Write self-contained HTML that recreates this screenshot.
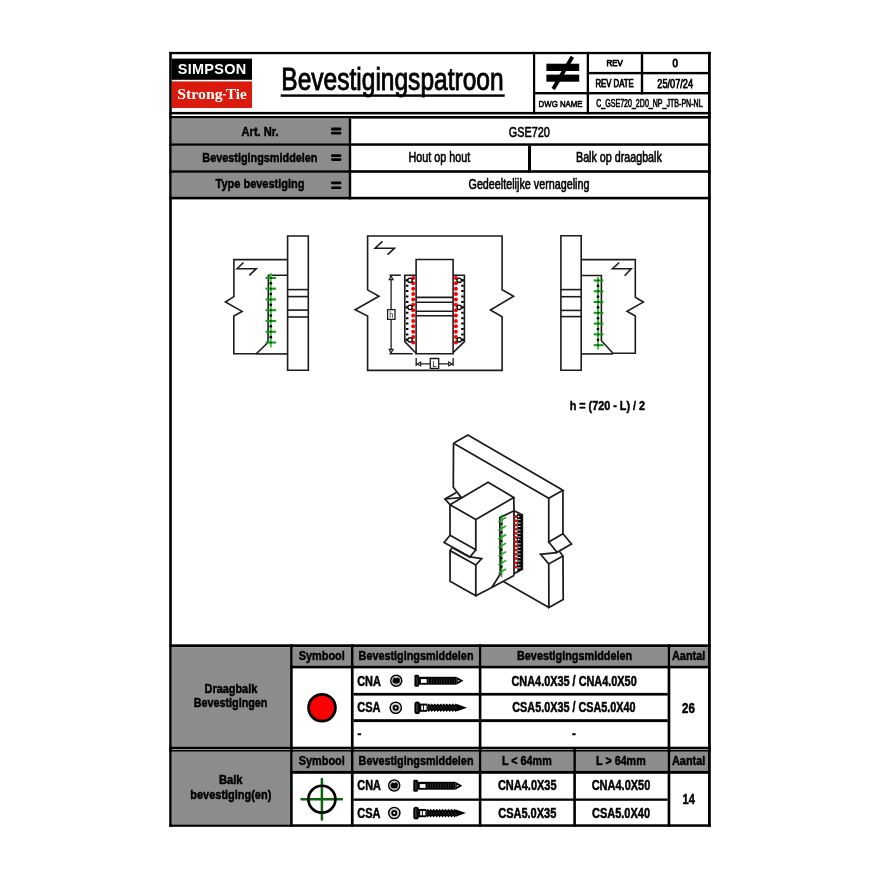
<!DOCTYPE html>
<html><head><meta charset="utf-8"><style>
html,body{margin:0;padding:0;background:#fff;width:880px;height:880px;overflow:hidden}
svg{display:block;will-change:transform}
</style></head><body>
<svg width="880" height="880" viewBox="0 0 880 880">
<defs>
<g id="nail">
  <rect x="0" y="-6" width="4.6" height="12" rx="1.3" fill="#000"/>
  <rect x="2.2" y="-4.2" width="0.9" height="8.4" fill="#555"/>
  <rect x="4.4" y="-4" width="8.4" height="7.9" fill="#000"/>
  <rect x="6.5" y="-1.7" width="5.8" height="3.8" fill="#fff"/>
  <rect x="12.6" y="-4" width="29.4" height="7.9" fill="#000"/>
  <path d="M42,-4 L49.1,0 L42,3.9 Z" fill="#000"/>
  <path d="M43.4,-0.8 L45.6,0 L43.4,0.9 Z" fill="#fff"/>
  <rect x="14.00" y="-2.6" width="0.6" height="5.2" fill="#444"/><rect x="16.60" y="-2.6" width="0.6" height="5.2" fill="#444"/><rect x="19.20" y="-2.6" width="0.6" height="5.2" fill="#444"/><rect x="21.80" y="-2.6" width="0.6" height="5.2" fill="#444"/><rect x="24.40" y="-2.6" width="0.6" height="5.2" fill="#444"/><rect x="27.00" y="-2.6" width="0.6" height="5.2" fill="#444"/><rect x="29.60" y="-2.6" width="0.6" height="5.2" fill="#444"/><rect x="32.20" y="-2.6" width="0.6" height="5.2" fill="#444"/><rect x="34.80" y="-2.6" width="0.6" height="5.2" fill="#444"/><rect x="37.40" y="-2.6" width="0.6" height="5.2" fill="#444"/><rect x="40.00" y="-2.6" width="0.6" height="5.2" fill="#444"/>
</g>
<g id="screw">
  <rect x="0" y="-6.3" width="5.6" height="12.6" rx="2.6" fill="#000"/>
  <rect x="2.1" y="-4.3" width="1.0" height="8.6" fill="#666"/>
  <rect x="5.4" y="-4.1" width="7.4" height="8.2" fill="#000"/>
  <rect x="6.9" y="-2.2" width="1.7" height="4.4" fill="#fff"/>
  <rect x="9.5" y="-2.2" width="2.6" height="4.4" fill="#fff"/>
  <polygon points="12.80,-2.60 14.30,-4.30 15.80,-2.60 17.30,-4.30 18.80,-2.60 20.30,-4.30 21.80,-2.60 23.30,-4.30 24.80,-2.60 26.30,-4.30 27.80,-2.60 29.30,-4.30 30.80,-2.60 32.30,-4.30 33.80,-2.60 35.30,-4.30 36.80,-2.60 38.30,-4.30 39.80,-2.60 41.30,-4.30 42.80,-2.60 42.80,2.60 41.30,4.30 39.80,2.60 38.30,4.30 36.80,2.60 35.30,4.30 33.80,2.60 32.30,4.30 30.80,2.60 29.30,4.30 27.80,2.60 26.30,4.30 24.80,2.60 23.30,4.30 21.80,2.60 20.30,4.30 18.80,2.60 17.30,4.30 15.80,2.60 14.30,4.30 12.80,2.60" fill="#000"/><path d="M13.60,-1.6 L15.20,1.6" stroke="#555" stroke-width="0.5"/><path d="M16.60,-1.6 L18.20,1.6" stroke="#555" stroke-width="0.5"/><path d="M19.60,-1.6 L21.20,1.6" stroke="#555" stroke-width="0.5"/><path d="M22.60,-1.6 L24.20,1.6" stroke="#555" stroke-width="0.5"/><path d="M25.60,-1.6 L27.20,1.6" stroke="#555" stroke-width="0.5"/><path d="M28.60,-1.6 L30.20,1.6" stroke="#555" stroke-width="0.5"/><path d="M31.60,-1.6 L33.20,1.6" stroke="#555" stroke-width="0.5"/><path d="M34.60,-1.6 L36.20,1.6" stroke="#555" stroke-width="0.5"/><path d="M37.60,-1.6 L39.20,1.6" stroke="#555" stroke-width="0.5"/><path d="M40.60,-1.6 L42.20,1.6" stroke="#555" stroke-width="0.5"/>
  <path d="M42.5,-3.6 L52.6,0 L42.5,3.6 Z" fill="#000"/>
</g>
<g id="cna">
  <circle r="5.5" fill="#fff" stroke="#000" stroke-width="1.5"/>
  <circle r="3.9" fill="none" stroke="#888" stroke-width="0.6"/>
  <circle r="4.1" fill="none" stroke="#aaa" stroke-width="0.5"/><path d="M-3.6,-0.8 L-2.2,-3.0 L0.6,-2.6 L1.6,-3.5 L3.7,-1.4 L3.3,1.9 L1.0,3.1 L-1.9,2.7 L-3.5,1.6 Z" fill="#000"/>
</g>
<g id="csa">
  <circle r="5.6" fill="#fff" stroke="#000" stroke-width="1.5"/>
  <circle r="4.0" fill="none" stroke="#999" stroke-width="0.6"/>
  <circle r="2.1" fill="none" stroke="#000" stroke-width="2.0"/>
</g>
</defs>
<rect x="169.20" y="51.90" width="541.60" height="2.30" fill="#000"/>
<rect x="169.20" y="51.90" width="2.60" height="774.90" fill="#000"/>
<rect x="708.00" y="51.90" width="2.80" height="774.90" fill="#000"/>
<rect x="169.20" y="824.30" width="541.60" height="2.50" fill="#000"/>
<rect x="171.90" y="58.60" width="80.10" height="21.20" fill="#000"/>
<rect x="171.90" y="81.40" width="80.10" height="26.60" fill="#da1a0c"/>
<text x="177.70" y="74.40" font-family="Liberation Sans" font-size="14.2" font-weight="700" fill="#fff"  textLength="68.80" lengthAdjust="spacingAndGlyphs" style="letter-spacing:0.3px">SIMPSON</text>
<text x="177.20" y="98.90" font-family="Liberation Serif" font-size="15.6" font-weight="700" fill="#fff"  textLength="45.50" lengthAdjust="spacingAndGlyphs" >Strong</text>
<rect x="222.90" y="94.00" width="3.00" height="1.40" fill="#fff"/>
<text x="225.90" y="98.90" font-family="Liberation Serif" font-size="15.6" font-weight="700" fill="#fff"  textLength="20.70" lengthAdjust="spacingAndGlyphs" >Tie</text>
<text x="281.30" y="90.30" font-family="Liberation Sans" font-size="30.8" font-weight="400" fill="#000" stroke="#000" stroke-width="0.9" textLength="222.30" lengthAdjust="spacingAndGlyphs" >Bevestigingspatroon</text>
<rect x="280.70" y="94.40" width="224.00" height="2.40" fill="#000"/>
<rect x="533.00" y="51.90" width="2.20" height="62.40" fill="#000"/>
<rect x="586.70" y="51.90" width="2.30" height="62.40" fill="#000"/>
<rect x="589.00" y="71.90" width="119.00" height="2.40" fill="#000"/>
<rect x="533.00" y="92.00" width="175.00" height="2.40" fill="#000"/>
<rect x="640.80" y="51.90" width="2.40" height="42.50" fill="#000"/>
<rect x="546.40" y="63.70" width="32.80" height="7.30" fill="#000"/>
<rect x="546.40" y="74.60" width="32.80" height="7.10" fill="#000"/>
<path d="M553.2,88.9 L572.4,56.8" stroke="#000" stroke-width="3.9" fill="none" stroke-linejoin="miter" stroke-linecap="butt" />
<text x="606.40" y="66.30" font-family="Liberation Sans" font-size="8.7" font-weight="400" fill="#000" stroke="#000" stroke-width="0.75" textLength="16.40" lengthAdjust="spacingAndGlyphs" >REV</text>
<text x="672.60" y="67.30" font-family="Liberation Sans" font-size="11.1" font-weight="400" fill="#000" stroke="#000" stroke-width="0.9" textLength="5.40" lengthAdjust="spacingAndGlyphs" >0</text>
<text x="595.50" y="87.20" font-family="Liberation Sans" font-size="10.2" font-weight="400" fill="#000" stroke="#000" stroke-width="0.75" textLength="38.20" lengthAdjust="spacingAndGlyphs" >REV DATE</text>
<text x="657.30" y="87.50" font-family="Liberation Sans" font-size="11.9" font-weight="400" fill="#000" stroke="#000" stroke-width="0.75" textLength="35.70" lengthAdjust="spacingAndGlyphs" >25/07/24</text>
<text x="538.60" y="107.00" font-family="Liberation Sans" font-size="9.7" font-weight="400" fill="#000" stroke="#000" stroke-width="0.6" textLength="44.00" lengthAdjust="spacingAndGlyphs" >DWG NAME</text>
<text x="596.20" y="107.20" font-family="Liberation Sans" font-size="10.5" font-weight="400" fill="#000" stroke="#000" stroke-width="0.6" textLength="106.40" lengthAdjust="spacingAndGlyphs" >C_GSE720_2D0_NP_JTB-PN-NL</text>
<rect x="169.20" y="111.90" width="541.60" height="2.50" fill="#000"/>
<rect x="169.20" y="116.00" width="541.60" height="2.60" fill="#000"/>
<rect x="171.80" y="118.50" width="176.80" height="24.80" fill="#8c8c8c"/>
<rect x="171.80" y="145.80" width="176.80" height="24.20" fill="#8c8c8c"/>
<rect x="171.80" y="172.80" width="176.80" height="24.20" fill="#8c8c8c"/>
<rect x="169.20" y="143.30" width="541.60" height="2.50" fill="#000"/>
<rect x="169.20" y="170.20" width="541.60" height="2.60" fill="#000"/>
<rect x="169.20" y="196.80" width="541.60" height="2.60" fill="#000"/>
<rect x="348.60" y="118.50" width="2.60" height="80.90" fill="#000"/>
<rect x="528.00" y="145.80" width="3.00" height="26.90" fill="#000"/>
<text x="241.60" y="136.00" font-family="Liberation Sans" font-size="13.7" font-weight="700" fill="#000" stroke="#000" stroke-width="0.5" textLength="37.00" lengthAdjust="spacingAndGlyphs" >Art. Nr.</text>
<text x="202.30" y="161.50" font-family="Liberation Sans" font-size="13.7" font-weight="700" fill="#000" stroke="#000" stroke-width="0.5" textLength="115.20" lengthAdjust="spacingAndGlyphs" >Bevestigingsmiddelen</text>
<text x="215.60" y="188.00" font-family="Liberation Sans" font-size="13.7" font-weight="700" fill="#000" stroke="#000" stroke-width="0.5" textLength="88.80" lengthAdjust="spacingAndGlyphs" >Type bevestiging</text>
<rect x="331.0" y="127.6" width="10.4" height="2.90" rx="1.3" fill="#000"/>
<rect x="331.0" y="131.8" width="10.4" height="2.70" rx="1.3" fill="#000"/>
<rect x="331.0" y="154.2" width="10.4" height="2.80" rx="1.3" fill="#000"/>
<rect x="331.0" y="158.2" width="10.4" height="2.70" rx="1.3" fill="#000"/>
<rect x="331.0" y="181.5" width="10.4" height="2.80" rx="1.3" fill="#000"/>
<rect x="331.0" y="186.4" width="10.4" height="2.70" rx="1.3" fill="#000"/>
<text x="508.70" y="136.60" font-family="Liberation Sans" font-size="14.2" font-weight="400" fill="#000" stroke="#000" stroke-width="0.6" textLength="41.20" lengthAdjust="spacingAndGlyphs" >GSE720</text>
<text x="408.50" y="161.50" font-family="Liberation Sans" font-size="14.2" font-weight="400" fill="#000" stroke="#000" stroke-width="0.6" textLength="61.80" lengthAdjust="spacingAndGlyphs" >Hout op hout</text>
<text x="576.00" y="161.50" font-family="Liberation Sans" font-size="14.2" font-weight="400" fill="#000" stroke="#000" stroke-width="0.6" textLength="85.80" lengthAdjust="spacingAndGlyphs" >Balk op draagbalk</text>
<text x="468.50" y="189.00" font-family="Liberation Sans" font-size="14.2" font-weight="400" fill="#000" stroke="#000" stroke-width="0.6" textLength="121.00" lengthAdjust="spacingAndGlyphs" >Gedeeltelijke vernageling</text>
<rect x="169.20" y="644.30" width="541.60" height="2.90" fill="#000"/>
<rect x="171.80" y="647.20" width="118.30" height="99.60" fill="#8c8c8c"/>
<rect x="293.00" y="647.20" width="57.90" height="18.40" fill="#8c8c8c"/>
<rect x="353.60" y="647.20" width="125.20" height="18.40" fill="#8c8c8c"/>
<rect x="481.40" y="647.20" width="186.20" height="18.40" fill="#8c8c8c"/>
<rect x="670.50" y="647.20" width="37.50" height="18.40" fill="#8c8c8c"/>
<rect x="290.10" y="665.60" width="417.90" height="2.80" fill="#000"/>
<rect x="353.60" y="692.90" width="314.20" height="2.70" fill="#000"/>
<rect x="353.60" y="719.20" width="314.20" height="2.90" fill="#000"/>
<rect x="169.20" y="746.70" width="541.60" height="2.30" fill="#000"/>
<rect x="169.20" y="749.60" width="541.60" height="2.40" fill="#000"/>
<rect x="171.80" y="751.50" width="118.30" height="72.80" fill="#8c8c8c"/>
<rect x="293.00" y="751.50" width="57.90" height="19.30" fill="#8c8c8c"/>
<rect x="353.60" y="751.50" width="125.20" height="19.30" fill="#8c8c8c"/>
<rect x="481.40" y="751.50" width="91.90" height="19.30" fill="#8c8c8c"/>
<rect x="575.90" y="751.50" width="91.70" height="19.30" fill="#8c8c8c"/>
<rect x="670.30" y="751.50" width="37.70" height="19.30" fill="#8c8c8c"/>
<rect x="290.10" y="770.80" width="417.90" height="3.00" fill="#000"/>
<rect x="353.60" y="798.50" width="314.00" height="2.30" fill="#000"/>
<rect x="290.10" y="644.30" width="2.60" height="182.50" fill="#000"/>
<rect x="350.90" y="644.30" width="2.70" height="182.50" fill="#000"/>
<rect x="478.80" y="644.30" width="2.60" height="182.50" fill="#000"/>
<rect x="667.60" y="644.30" width="2.70" height="182.50" fill="#000"/>
<rect x="573.30" y="749.00" width="2.60" height="77.60" fill="#000"/>
<text x="204.50" y="693.00" font-family="Liberation Sans" font-size="13.2" font-weight="700" fill="#000" stroke="#000" stroke-width="0.5" textLength="52.80" lengthAdjust="spacingAndGlyphs" >Draagbalk</text>
<text x="193.70" y="707.30" font-family="Liberation Sans" font-size="13.2" font-weight="700" fill="#000" stroke="#000" stroke-width="0.5" textLength="73.70" lengthAdjust="spacingAndGlyphs" >Bevestigingen</text>
<text x="298.80" y="659.90" font-family="Liberation Sans" font-size="13.6" font-weight="700" fill="#000" stroke="#000" stroke-width="0.5" textLength="46.00" lengthAdjust="spacingAndGlyphs" >Symbool</text>
<text x="358.60" y="659.90" font-family="Liberation Sans" font-size="13.6" font-weight="700" fill="#000" stroke="#000" stroke-width="0.5" textLength="114.90" lengthAdjust="spacingAndGlyphs" >Bevestigingsmiddelen</text>
<text x="517.00" y="659.90" font-family="Liberation Sans" font-size="13.6" font-weight="700" fill="#000" stroke="#000" stroke-width="0.5" textLength="115.10" lengthAdjust="spacingAndGlyphs" >Bevestigingsmiddelen</text>
<text x="672.00" y="660.00" font-family="Liberation Sans" font-size="13.2" font-weight="700" fill="#000" stroke="#000" stroke-width="0.5" textLength="33.30" lengthAdjust="spacingAndGlyphs" >Aantal</text>
<text x="357.20" y="685.60" font-family="Liberation Sans" font-size="13.8" font-weight="700" fill="#000" stroke="#000" stroke-width="0.5" textLength="23.70" lengthAdjust="spacingAndGlyphs" >CNA</text>
<text x="357.20" y="712.20" font-family="Liberation Sans" font-size="13.8" font-weight="700" fill="#000" stroke="#000" stroke-width="0.5" textLength="23.30" lengthAdjust="spacingAndGlyphs" >CSA</text>
<text x="357.50" y="737.70" font-family="Liberation Sans" font-size="12.7" font-weight="700" fill="#000" stroke="#000" stroke-width="0.5" textLength="3.80" lengthAdjust="spacingAndGlyphs" >-</text>
<text x="511.50" y="685.60" font-family="Liberation Sans" font-size="13.8" font-weight="700" fill="#000" stroke="#000" stroke-width="0.5" textLength="125.20" lengthAdjust="spacingAndGlyphs" >CNA4.0X35 / CNA4.0X50</text>
<text x="512.30" y="712.20" font-family="Liberation Sans" font-size="13.8" font-weight="700" fill="#000" stroke="#000" stroke-width="0.5" textLength="123.30" lengthAdjust="spacingAndGlyphs" >CSA5.0X35 / CSA5.0X40</text>
<text x="571.90" y="737.70" font-family="Liberation Sans" font-size="12.7" font-weight="700" fill="#000" stroke="#000" stroke-width="0.5" textLength="3.80" lengthAdjust="spacingAndGlyphs" >-</text>
<text x="682.00" y="713.00" font-family="Liberation Sans" font-size="13.8" font-weight="700" fill="#000" stroke="#000" stroke-width="0.5" textLength="12.80" lengthAdjust="spacingAndGlyphs" >26</text>
<text x="218.90" y="784.20" font-family="Liberation Sans" font-size="13.2" font-weight="700" fill="#000" stroke="#000" stroke-width="0.5" textLength="23.70" lengthAdjust="spacingAndGlyphs" >Balk</text>
<text x="190.30" y="798.60" font-family="Liberation Sans" font-size="13.2" font-weight="700" fill="#000" stroke="#000" stroke-width="0.5" textLength="81.00" lengthAdjust="spacingAndGlyphs" >bevestiging(en)</text>
<text x="298.80" y="764.50" font-family="Liberation Sans" font-size="13.6" font-weight="700" fill="#000" stroke="#000" stroke-width="0.5" textLength="46.00" lengthAdjust="spacingAndGlyphs" >Symbool</text>
<text x="358.60" y="764.50" font-family="Liberation Sans" font-size="13.6" font-weight="700" fill="#000" stroke="#000" stroke-width="0.5" textLength="114.90" lengthAdjust="spacingAndGlyphs" >Bevestigingsmiddelen</text>
<text x="502.00" y="764.50" font-family="Liberation Sans" font-size="13.6" font-weight="700" fill="#000" stroke="#000" stroke-width="0.5" textLength="49.70" lengthAdjust="spacingAndGlyphs" >L &lt; 64mm</text>
<text x="596.10" y="764.50" font-family="Liberation Sans" font-size="13.6" font-weight="700" fill="#000" stroke="#000" stroke-width="0.5" textLength="49.60" lengthAdjust="spacingAndGlyphs" >L &gt; 64mm</text>
<text x="672.00" y="764.60" font-family="Liberation Sans" font-size="13.2" font-weight="700" fill="#000" stroke="#000" stroke-width="0.5" textLength="33.30" lengthAdjust="spacingAndGlyphs" >Aantal</text>
<text x="357.30" y="790.30" font-family="Liberation Sans" font-size="13.8" font-weight="700" fill="#000" stroke="#000" stroke-width="0.5" textLength="23.60" lengthAdjust="spacingAndGlyphs" >CNA</text>
<text x="357.30" y="817.70" font-family="Liberation Sans" font-size="13.8" font-weight="700" fill="#000" stroke="#000" stroke-width="0.5" textLength="23.20" lengthAdjust="spacingAndGlyphs" >CSA</text>
<text x="497.90" y="790.30" font-family="Liberation Sans" font-size="13.8" font-weight="700" fill="#000" stroke="#000" stroke-width="0.5" textLength="58.70" lengthAdjust="spacingAndGlyphs" >CNA4.0X35</text>
<text x="591.70" y="790.30" font-family="Liberation Sans" font-size="13.8" font-weight="700" fill="#000" stroke="#000" stroke-width="0.5" textLength="58.60" lengthAdjust="spacingAndGlyphs" >CNA4.0X50</text>
<text x="498.20" y="817.70" font-family="Liberation Sans" font-size="13.8" font-weight="700" fill="#000" stroke="#000" stroke-width="0.5" textLength="58.10" lengthAdjust="spacingAndGlyphs" >CSA5.0X35</text>
<text x="592.00" y="817.70" font-family="Liberation Sans" font-size="13.8" font-weight="700" fill="#000" stroke="#000" stroke-width="0.5" textLength="58.00" lengthAdjust="spacingAndGlyphs" >CSA5.0X40</text>
<text x="682.50" y="804.00" font-family="Liberation Sans" font-size="13.8" font-weight="700" fill="#000" stroke="#000" stroke-width="0.5" textLength="12.30" lengthAdjust="spacingAndGlyphs" >14</text>
<circle cx="322" cy="707.7" r="13.4" fill="#ff0000" stroke="#000" stroke-width="2.8"/>
<path d="M301.5,799.2 H341.9 M321.9,779.0 V819.4" stroke="#0b660b" stroke-width="2.5" stroke-linecap="round" fill="none"/>
<circle cx="321.9" cy="799.25" r="13.5" fill="none" stroke="#000" stroke-width="2.7"/>
<text x="569.70" y="409.50" font-family="Liberation Sans" font-size="13.0" font-weight="700" fill="#000" stroke="#000" stroke-width="0.5" textLength="75.30" lengthAdjust="spacingAndGlyphs" >h = (720 - L) / 2</text>
<path d="M287.6,236.0 H308.3 V370.2 H287.6 Z" stroke="#1c1c1c" stroke-width="1.6" fill="none" stroke-linejoin="miter" stroke-linecap="butt" stroke-linejoin="round"/>
<path d="M287.5,289.6 H308.2" stroke="#1c1c1c" stroke-width="1.6" fill="none" stroke-linejoin="miter" stroke-linecap="butt" />
<path d="M287.5,296.6 H308.2" stroke="#1c1c1c" stroke-width="1.6" fill="none" stroke-linejoin="miter" stroke-linecap="butt" />
<path d="M287.5,310.1 H308.2" stroke="#1c1c1c" stroke-width="1.6" fill="none" stroke-linejoin="miter" stroke-linecap="butt" />
<path d="M287.5,317.0 H308.2" stroke="#1c1c1c" stroke-width="1.6" fill="none" stroke-linejoin="miter" stroke-linecap="butt" />
<path d="M287.5,259.6 H233.9 V296.6 L225.4,302 L242.1,311.4 L233.8,316 V353.8 H256.2 L268.0,342.5 L268.4,275.2 H287.5" stroke="#1c1c1c" stroke-width="1.6" fill="none" stroke-linejoin="miter" stroke-linecap="butt" stroke-linejoin="round"/>
<path d="M256.2,353.9 H287.5" stroke="#1c1c1c" stroke-width="1.6" fill="none" stroke-linejoin="miter" stroke-linecap="butt" />
<path d="M243.5,262.5 L237.1,268.8 H256.2 L249.3,275.3" stroke="#1c1c1c" stroke-width="1.6" fill="none" stroke-linejoin="miter" stroke-linecap="butt" stroke-linejoin="round"/>
<path d="M270.8,273 V347.4" stroke="#44c444" stroke-width="2.0" fill="none" stroke-linejoin="miter" stroke-linecap="butt" />
<path d="M265.6,277.90 H276.1" stroke="#1b9a1b" stroke-width="2.1" fill="none" stroke-linejoin="miter" stroke-linecap="butt" />
<circle cx="270.8" cy="277.90" r="1.0" fill="#064a06"/>
<path d="M265.6,288.67 H276.1" stroke="#1b9a1b" stroke-width="2.1" fill="none" stroke-linejoin="miter" stroke-linecap="butt" />
<circle cx="270.8" cy="288.67" r="1.0" fill="#064a06"/>
<path d="M265.6,299.44 H276.1" stroke="#1b9a1b" stroke-width="2.1" fill="none" stroke-linejoin="miter" stroke-linecap="butt" />
<circle cx="270.8" cy="299.44" r="1.0" fill="#064a06"/>
<path d="M265.6,310.21 H276.1" stroke="#1b9a1b" stroke-width="2.1" fill="none" stroke-linejoin="miter" stroke-linecap="butt" />
<circle cx="270.8" cy="310.21" r="1.0" fill="#064a06"/>
<path d="M265.6,320.98 H276.1" stroke="#1b9a1b" stroke-width="2.1" fill="none" stroke-linejoin="miter" stroke-linecap="butt" />
<circle cx="270.8" cy="320.98" r="1.0" fill="#064a06"/>
<path d="M265.6,331.75 H276.1" stroke="#1b9a1b" stroke-width="2.1" fill="none" stroke-linejoin="miter" stroke-linecap="butt" />
<circle cx="270.8" cy="331.75" r="1.0" fill="#064a06"/>
<path d="M265.6,342.52 H276.1" stroke="#1b9a1b" stroke-width="2.1" fill="none" stroke-linejoin="miter" stroke-linecap="butt" />
<circle cx="270.8" cy="342.52" r="1.0" fill="#064a06"/>
<circle cx="270.8" cy="283.28" r="1.35" fill="#000"/>
<circle cx="270.8" cy="294.05" r="1.35" fill="#000"/>
<circle cx="270.8" cy="304.82" r="1.35" fill="#000"/>
<circle cx="270.8" cy="315.59" r="1.35" fill="#000"/>
<circle cx="270.8" cy="326.36" r="1.35" fill="#000"/>
<circle cx="270.8" cy="337.13" r="1.35" fill="#000"/>
<path d="M560.9,235.8 H581.2 V370.3 H560.9 Z" stroke="#1c1c1c" stroke-width="1.6" fill="none" stroke-linejoin="miter" stroke-linecap="butt" stroke-linejoin="round"/>
<path d="M560.9,289.6 H581.2" stroke="#1c1c1c" stroke-width="1.6" fill="none" stroke-linejoin="miter" stroke-linecap="butt" />
<path d="M560.9,296.7 H581.2" stroke="#1c1c1c" stroke-width="1.6" fill="none" stroke-linejoin="miter" stroke-linecap="butt" />
<path d="M560.9,310.4 H581.2" stroke="#1c1c1c" stroke-width="1.6" fill="none" stroke-linejoin="miter" stroke-linecap="butt" />
<path d="M560.9,316.6 H581.2" stroke="#1c1c1c" stroke-width="1.6" fill="none" stroke-linejoin="miter" stroke-linecap="butt" />
<path d="M581.2,259.6 H635.3 V297.3 L643.4,302.1 L627.0,311.2 L635.3,316 V353.3 H613.0 L601.4,340.8 L601.4,275.5 H581.2" stroke="#1c1c1c" stroke-width="1.6" fill="none" stroke-linejoin="miter" stroke-linecap="butt" stroke-linejoin="round"/>
<path d="M581.2,353.9 H613.0" stroke="#1c1c1c" stroke-width="1.6" fill="none" stroke-linejoin="miter" stroke-linecap="butt" />
<path d="M619.2,262.5 L612.5,268.7 H631.2 L624.6,275.7" stroke="#1c1c1c" stroke-width="1.6" fill="none" stroke-linejoin="miter" stroke-linecap="butt" stroke-linejoin="round"/>
<path d="M598.0,277 V349.5" stroke="#44c444" stroke-width="2.0" fill="none" stroke-linejoin="miter" stroke-linecap="butt" />
<path d="M593.7,280.50 H603.4" stroke="#1b9a1b" stroke-width="2.1" fill="none" stroke-linejoin="miter" stroke-linecap="butt" />
<circle cx="598.0" cy="280.50" r="1.0" fill="#064a06"/>
<path d="M593.7,291.28 H603.4" stroke="#1b9a1b" stroke-width="2.1" fill="none" stroke-linejoin="miter" stroke-linecap="butt" />
<circle cx="598.0" cy="291.28" r="1.0" fill="#064a06"/>
<path d="M593.7,302.06 H603.4" stroke="#1b9a1b" stroke-width="2.1" fill="none" stroke-linejoin="miter" stroke-linecap="butt" />
<circle cx="598.0" cy="302.06" r="1.0" fill="#064a06"/>
<path d="M593.7,312.84 H603.4" stroke="#1b9a1b" stroke-width="2.1" fill="none" stroke-linejoin="miter" stroke-linecap="butt" />
<circle cx="598.0" cy="312.84" r="1.0" fill="#064a06"/>
<path d="M593.7,323.62 H603.4" stroke="#1b9a1b" stroke-width="2.1" fill="none" stroke-linejoin="miter" stroke-linecap="butt" />
<circle cx="598.0" cy="323.62" r="1.0" fill="#064a06"/>
<path d="M593.7,334.40 H603.4" stroke="#1b9a1b" stroke-width="2.1" fill="none" stroke-linejoin="miter" stroke-linecap="butt" />
<circle cx="598.0" cy="334.40" r="1.0" fill="#064a06"/>
<path d="M593.7,345.18 H603.4" stroke="#1b9a1b" stroke-width="2.1" fill="none" stroke-linejoin="miter" stroke-linecap="butt" />
<circle cx="598.0" cy="345.18" r="1.0" fill="#064a06"/>
<circle cx="598.0" cy="285.89" r="1.35" fill="#000"/>
<circle cx="598.0" cy="296.67" r="1.35" fill="#000"/>
<circle cx="598.0" cy="307.45" r="1.35" fill="#000"/>
<circle cx="598.0" cy="318.23" r="1.35" fill="#000"/>
<circle cx="598.0" cy="329.01" r="1.35" fill="#000"/>
<circle cx="598.0" cy="339.79" r="1.35" fill="#000"/>
<path d="M367.6,236 H502.1 V289.8 L513.6,296.2 L490.4,310 L502.1,316.8 V370.4 H367.6 V316.1 L355.1,309.8 L379,296.2 L367.6,289.9 Z" stroke="#1c1c1c" stroke-width="1.6" fill="none" stroke-linejoin="miter" stroke-linecap="butt" stroke-linejoin="round"/>
<path d="M382.4,241.4 L375.2,248.2 H394.5 L387.5,254.7" stroke="#1c1c1c" stroke-width="1.6" fill="none" stroke-linejoin="miter" stroke-linecap="butt" stroke-linejoin="round"/>
<path d="M416.1,259.5 H453.1 V353.8 H416.1 Z" stroke="#1c1c1c" stroke-width="1.6" fill="none" stroke-linejoin="miter" stroke-linecap="butt" stroke-linejoin="round"/>
<path d="M416.1,297.4 H453.1" stroke="#1c1c1c" stroke-width="1.6" fill="none" stroke-linejoin="miter" stroke-linecap="butt" />
<path d="M416.1,302.2 H453.1" stroke="#1c1c1c" stroke-width="1.6" fill="none" stroke-linejoin="miter" stroke-linecap="butt" />
<path d="M416.1,311.2 H453.1" stroke="#1c1c1c" stroke-width="1.6" fill="none" stroke-linejoin="miter" stroke-linecap="butt" />
<path d="M416.1,315.8 H453.1" stroke="#1c1c1c" stroke-width="1.6" fill="none" stroke-linejoin="miter" stroke-linecap="butt" />
<path d="M416.1,275.2 H404.8 V341.6 L416.1,353.3" stroke="#1c1c1c" stroke-width="1.6" fill="none" stroke-linejoin="miter" stroke-linecap="butt" stroke-linejoin="round"/>
<path d="M453.1,275.3 H464.4 V341.6 L453.1,352.6" stroke="#1c1c1c" stroke-width="1.6" fill="none" stroke-linejoin="miter" stroke-linecap="butt" stroke-linejoin="round"/>
<circle cx="413.2" cy="278.00" r="2.0" fill="#ff0000"/>
<circle cx="455.9" cy="278.00" r="2.0" fill="#ff0000"/>
<circle cx="413.2" cy="283.37" r="2.0" fill="#ff0000"/>
<circle cx="455.9" cy="283.37" r="2.0" fill="#ff0000"/>
<circle cx="413.2" cy="288.74" r="2.0" fill="#ff0000"/>
<circle cx="455.9" cy="288.74" r="2.0" fill="#ff0000"/>
<circle cx="413.2" cy="294.11" r="2.0" fill="#ff0000"/>
<circle cx="455.9" cy="294.11" r="2.0" fill="#ff0000"/>
<circle cx="413.2" cy="299.48" r="2.0" fill="#ff0000"/>
<circle cx="455.9" cy="299.48" r="2.0" fill="#ff0000"/>
<circle cx="413.2" cy="304.85" r="2.0" fill="#ff0000"/>
<circle cx="455.9" cy="304.85" r="2.0" fill="#ff0000"/>
<circle cx="413.2" cy="310.22" r="2.0" fill="#ff0000"/>
<circle cx="455.9" cy="310.22" r="2.0" fill="#ff0000"/>
<circle cx="413.2" cy="315.59" r="2.0" fill="#ff0000"/>
<circle cx="455.9" cy="315.59" r="2.0" fill="#ff0000"/>
<circle cx="413.2" cy="320.96" r="2.0" fill="#ff0000"/>
<circle cx="455.9" cy="320.96" r="2.0" fill="#ff0000"/>
<circle cx="413.2" cy="326.33" r="2.0" fill="#ff0000"/>
<circle cx="455.9" cy="326.33" r="2.0" fill="#ff0000"/>
<circle cx="413.2" cy="331.70" r="2.0" fill="#ff0000"/>
<circle cx="455.9" cy="331.70" r="2.0" fill="#ff0000"/>
<circle cx="413.2" cy="337.07" r="2.0" fill="#ff0000"/>
<circle cx="455.9" cy="337.07" r="2.0" fill="#ff0000"/>
<circle cx="413.2" cy="342.44" r="2.0" fill="#ff0000"/>
<circle cx="455.9" cy="342.44" r="2.0" fill="#ff0000"/>
<circle cx="406.9" cy="280.30" r="1.4" fill="#000"/>
<circle cx="410.0" cy="280.30" r="2.2" fill="#fff" stroke="#000" stroke-width="1.3"/>
<circle cx="462.7" cy="280.30" r="1.4" fill="#000"/>
<circle cx="459.2" cy="280.30" r="2.2" fill="#fff" stroke="#000" stroke-width="1.3"/>
<path d="M405.9,285.71 H408.4 M461.2,285.71 H463.7" stroke="#000" stroke-width="2.0" fill="none" stroke-linejoin="miter" stroke-linecap="butt" stroke-linecap="round"/>
<path d="M405.9,291.12 H408.4 M461.2,291.12 H463.7" stroke="#000" stroke-width="2.0" fill="none" stroke-linejoin="miter" stroke-linecap="butt" stroke-linecap="round"/>
<path d="M405.9,296.53 H408.4 M461.2,296.53 H463.7" stroke="#000" stroke-width="2.0" fill="none" stroke-linejoin="miter" stroke-linecap="butt" stroke-linecap="round"/>
<path d="M405.9,301.94 H408.4 M461.2,301.94 H463.7" stroke="#000" stroke-width="2.0" fill="none" stroke-linejoin="miter" stroke-linecap="butt" stroke-linecap="round"/>
<circle cx="406.9" cy="307.35" r="1.4" fill="#000"/>
<circle cx="410.0" cy="307.35" r="2.2" fill="#fff" stroke="#000" stroke-width="1.3"/>
<circle cx="462.7" cy="307.35" r="1.4" fill="#000"/>
<circle cx="459.2" cy="307.35" r="2.2" fill="#fff" stroke="#000" stroke-width="1.3"/>
<path d="M405.9,312.76 H408.4 M461.2,312.76 H463.7" stroke="#000" stroke-width="2.0" fill="none" stroke-linejoin="miter" stroke-linecap="butt" stroke-linecap="round"/>
<path d="M405.9,318.17 H408.4 M461.2,318.17 H463.7" stroke="#000" stroke-width="2.0" fill="none" stroke-linejoin="miter" stroke-linecap="butt" stroke-linecap="round"/>
<path d="M405.9,323.58 H408.4 M461.2,323.58 H463.7" stroke="#000" stroke-width="2.0" fill="none" stroke-linejoin="miter" stroke-linecap="butt" stroke-linecap="round"/>
<path d="M405.9,328.99 H408.4 M461.2,328.99 H463.7" stroke="#000" stroke-width="2.0" fill="none" stroke-linejoin="miter" stroke-linecap="butt" stroke-linecap="round"/>
<path d="M405.9,334.40 H408.4 M461.2,334.40 H463.7" stroke="#000" stroke-width="2.0" fill="none" stroke-linejoin="miter" stroke-linecap="butt" stroke-linecap="round"/>
<circle cx="406.9" cy="339.81" r="1.4" fill="#000"/>
<circle cx="410.0" cy="339.81" r="2.2" fill="#fff" stroke="#000" stroke-width="1.3"/>
<circle cx="462.7" cy="339.81" r="1.4" fill="#000"/>
<circle cx="459.2" cy="339.81" r="2.2" fill="#fff" stroke="#000" stroke-width="1.3"/>
<path d="M391.1,275.2 V353.7" stroke="#1c1c1c" stroke-width="1.3" fill="none" stroke-linejoin="miter" stroke-linecap="butt" />
<path d="M389.5,275.2 H400.8" stroke="#1c1c1c" stroke-width="1.5" fill="none" stroke-linejoin="miter" stroke-linecap="butt" />
<path d="M389.5,353.7 H412.6" stroke="#1c1c1c" stroke-width="1.5" fill="none" stroke-linejoin="miter" stroke-linecap="butt" />
<path d="M391.1,276 L389.2,279.6 H393.0 Z" stroke="#1c1c1c" stroke-width="1.2" fill="#fff" stroke-linejoin="miter" stroke-linecap="butt" />
<path d="M391.1,353 L389.2,349.4 H393.0 Z" stroke="#1c1c1c" stroke-width="1.2" fill="#fff" stroke-linejoin="miter" stroke-linecap="butt" />
<path d="M387.6,309.6 H395.0 V319.3 H387.6 Z" stroke="#1c1c1c" stroke-width="1.3" fill="#fff" stroke-linejoin="miter" stroke-linecap="butt" />
<text x="391.3" y="317.6" font-family="Liberation Sans" font-size="8.5" fill="#333" text-anchor="middle" textLength="4.2" lengthAdjust="spacingAndGlyphs">h</text>
<path d="M416.2,357.9 V366" stroke="#1c1c1c" stroke-width="1.3" fill="none" stroke-linejoin="miter" stroke-linecap="butt" />
<path d="M453.1,357.9 V366" stroke="#1c1c1c" stroke-width="1.3" fill="none" stroke-linejoin="miter" stroke-linecap="butt" />
<path d="M416.8,363.9 H430.1 M438.9,363.9 H452.5" stroke="#1c1c1c" stroke-width="1.3" fill="none" stroke-linejoin="miter" stroke-linecap="butt" />
<path d="M417,363.9 L420.6,362 V365.8 Z" stroke="#1c1c1c" stroke-width="1.1" fill="#fff" stroke-linejoin="miter" stroke-linecap="butt" />
<path d="M452.3,363.9 L448.7,362 V365.8 Z" stroke="#1c1c1c" stroke-width="1.1" fill="#fff" stroke-linejoin="miter" stroke-linecap="butt" />
<path d="M430.3,358.5 H438.7 V368.4 H430.3 Z" stroke="#1c1c1c" stroke-width="1.3" fill="#fff" stroke-linejoin="miter" stroke-linecap="butt" />
<text x="432.2" y="367.0" font-family="Liberation Sans" font-size="9" fill="#222" textLength="4.6" lengthAdjust="spacingAndGlyphs">L</text>
<path d="M453.50,443.30 L467.90,434.90 L562.95,490.20 L548.75,498.20 L453.50,443.30" stroke="#1c1c1c" stroke-width="1.75" fill="none" stroke-linejoin="miter" stroke-linecap="butt" stroke-linejoin="round"/>
<path d="M453.50,443.30 L453.30,487.30 L461.50,497.90" stroke="#1c1c1c" stroke-width="1.75" fill="none" stroke-linejoin="miter" stroke-linecap="butt" stroke-linejoin="round"/>
<path d="M456.40,492.40 L444.90,499.00 L450.00,504.70" stroke="#1c1c1c" stroke-width="1.75" fill="none" stroke-linejoin="miter" stroke-linecap="butt" stroke-linejoin="round"/>
<path d="M444.90,499.00 L461.50,497.60" stroke="#1c1c1c" stroke-width="1.6" fill="none" stroke-linejoin="miter" stroke-linecap="butt" stroke-linejoin="round"/>
<path d="M548.75,498.20 L548.75,542.05 L562.95,533.80 L562.95,490.20" stroke="#1c1c1c" stroke-width="1.75" fill="none" stroke-linejoin="miter" stroke-linecap="butt" stroke-linejoin="round"/>
<path d="M562.95,533.80 L571.50,544.00 L557.00,552.30 L548.75,542.05" stroke="#1c1c1c" stroke-width="1.75" fill="none" stroke-linejoin="miter" stroke-linecap="butt" stroke-linejoin="round"/>
<path d="M557.00,552.60 L540.50,554.30 L548.75,563.90 L562.95,556.00 L559.50,551.40" stroke="#1c1c1c" stroke-width="1.75" fill="none" stroke-linejoin="miter" stroke-linecap="butt" stroke-linejoin="round"/>
<path d="M548.75,563.90 L548.90,607.50 L563.20,599.50 L562.95,556.00" stroke="#1c1c1c" stroke-width="1.75" fill="none" stroke-linejoin="miter" stroke-linecap="butt" stroke-linejoin="round"/>
<path d="M503.40,581.50 L548.90,607.50" stroke="#1c1c1c" stroke-width="1.75" fill="none" stroke-linejoin="miter" stroke-linecap="butt" stroke-linejoin="round"/>
<path d="M450.00,504.70 L488.10,482.20 L513.80,497.50 L475.80,519.50 L450.00,504.70" stroke="#1c1c1c" stroke-width="1.75" fill="none" stroke-linejoin="miter" stroke-linecap="butt" stroke-linejoin="round"/>
<path d="M450.00,504.70 L450.05,535.20 L475.80,549.70 L475.80,519.50" stroke="#1c1c1c" stroke-width="1.75" fill="none" stroke-linejoin="miter" stroke-linecap="butt" stroke-linejoin="round"/>
<path d="M450.05,535.20 L444.10,542.50 L470.20,556.90 L475.80,549.70" stroke="#1c1c1c" stroke-width="1.75" fill="none" stroke-linejoin="miter" stroke-linecap="butt" stroke-linejoin="round"/>
<path d="M451.90,547.60 L450.05,550.60 L475.80,565.00 L481.70,558.60 L470.20,556.90" stroke="#1c1c1c" stroke-width="1.75" fill="none" stroke-linejoin="miter" stroke-linecap="butt" stroke-linejoin="round"/>
<path d="M451.90,547.60 L470.20,557.40" stroke="#1c1c1c" stroke-width="1.75" fill="none" stroke-linejoin="miter" stroke-linecap="butt" stroke-linejoin="round"/>
<path d="M450.05,550.60 L450.05,581.20 L475.80,595.70 L475.80,565.00" stroke="#1c1c1c" stroke-width="1.75" fill="none" stroke-linejoin="miter" stroke-linecap="butt" stroke-linejoin="round"/>
<path d="M475.80,595.70 L491.80,587.50 L514.00,575.60" stroke="#1c1c1c" stroke-width="1.75" fill="none" stroke-linejoin="miter" stroke-linecap="butt" stroke-linejoin="round"/>
<path d="M513.80,497.50 L514.00,510.80" stroke="#1c1c1c" stroke-width="1.75" fill="none" stroke-linejoin="miter" stroke-linecap="butt" />
<path d="M491.80,587.50 L500.30,573.90 L499.80,517.60 L514.00,510.80 L514.00,575.60" stroke="#1c1c1c" stroke-width="1.75" fill="none" stroke-linejoin="miter" stroke-linecap="butt" stroke-linejoin="round"/>
<path d="M514.00,510.80 L522.30,514.80 L522.30,569.30 L514.00,573.60" stroke="#1c1c1c" stroke-width="1.75" fill="none" stroke-linejoin="miter" stroke-linecap="butt" stroke-linejoin="round"/>
<circle cx="515.9" cy="516.50" r="1.5" fill="#ff0000"/>
<circle cx="515.9" cy="520.70" r="1.5" fill="#ff0000"/>
<circle cx="515.9" cy="524.90" r="1.5" fill="#ff0000"/>
<circle cx="515.9" cy="529.10" r="1.5" fill="#ff0000"/>
<circle cx="515.9" cy="533.30" r="1.5" fill="#ff0000"/>
<circle cx="515.9" cy="537.50" r="1.5" fill="#ff0000"/>
<circle cx="515.9" cy="541.70" r="1.5" fill="#ff0000"/>
<circle cx="515.9" cy="545.90" r="1.5" fill="#ff0000"/>
<circle cx="515.9" cy="550.10" r="1.5" fill="#ff0000"/>
<circle cx="515.9" cy="554.30" r="1.5" fill="#ff0000"/>
<circle cx="515.9" cy="558.50" r="1.5" fill="#ff0000"/>
<circle cx="515.9" cy="562.70" r="1.5" fill="#ff0000"/>
<circle cx="515.9" cy="566.90" r="1.5" fill="#ff0000"/>
<path d="M517.4,513.4 L522.3,515.6 V569.0 L517.4,571.6 Z" fill="#000"/>
<path d="M517.9,519.60 H520.6" stroke="#fff" stroke-width="0.9" fill="none" stroke-linejoin="miter" stroke-linecap="butt" />
<path d="M517.9,523.05 H520.6" stroke="#fff" stroke-width="0.9" fill="none" stroke-linejoin="miter" stroke-linecap="butt" />
<path d="M517.9,526.50 H520.6" stroke="#fff" stroke-width="0.9" fill="none" stroke-linejoin="miter" stroke-linecap="butt" />
<path d="M517.9,529.95 H520.6" stroke="#fff" stroke-width="0.9" fill="none" stroke-linejoin="miter" stroke-linecap="butt" />
<path d="M517.9,533.40 H520.6" stroke="#fff" stroke-width="0.9" fill="none" stroke-linejoin="miter" stroke-linecap="butt" />
<path d="M517.9,536.85 H520.6" stroke="#fff" stroke-width="0.9" fill="none" stroke-linejoin="miter" stroke-linecap="butt" />
<path d="M517.9,540.30 H520.6" stroke="#fff" stroke-width="0.9" fill="none" stroke-linejoin="miter" stroke-linecap="butt" />
<path d="M517.9,543.75 H520.6" stroke="#fff" stroke-width="0.9" fill="none" stroke-linejoin="miter" stroke-linecap="butt" />
<path d="M517.9,547.20 H520.6" stroke="#fff" stroke-width="0.9" fill="none" stroke-linejoin="miter" stroke-linecap="butt" />
<path d="M517.9,550.65 H520.6" stroke="#fff" stroke-width="0.9" fill="none" stroke-linejoin="miter" stroke-linecap="butt" />
<path d="M517.9,554.10 H520.6" stroke="#fff" stroke-width="0.9" fill="none" stroke-linejoin="miter" stroke-linecap="butt" />
<path d="M517.9,557.55 H520.6" stroke="#fff" stroke-width="0.9" fill="none" stroke-linejoin="miter" stroke-linecap="butt" />
<path d="M517.9,561.00 H520.6" stroke="#fff" stroke-width="0.9" fill="none" stroke-linejoin="miter" stroke-linecap="butt" />
<path d="M517.9,564.45 H520.6" stroke="#fff" stroke-width="0.9" fill="none" stroke-linejoin="miter" stroke-linecap="butt" />
<path d="M517.9,567.90 H520.6" stroke="#fff" stroke-width="0.9" fill="none" stroke-linejoin="miter" stroke-linecap="butt" />
<circle cx="518.6" cy="516.6" r="1.5" fill="#fff" stroke="#000" stroke-width="1.1"/>
<circle cx="518.6" cy="539.4" r="1.5" fill="#fff" stroke="#000" stroke-width="1.1"/>
<circle cx="518.6" cy="564.6" r="1.5" fill="#fff" stroke="#000" stroke-width="1.1"/>
<path d="M502.0,514.8 L501.6,577.3" stroke="#22a022" stroke-width="1.4" fill="none" stroke-linejoin="miter" stroke-linecap="butt" />
<path d="M498.4,521.80 L506.2,517.30" stroke="#22a022" stroke-width="1.5" fill="none" stroke-linejoin="miter" stroke-linecap="butt" />
<circle cx="501.6" cy="523.85" r="1.1" fill="#000"/>
<path d="M498.4,530.40 L506.2,525.90" stroke="#22a022" stroke-width="1.5" fill="none" stroke-linejoin="miter" stroke-linecap="butt" />
<circle cx="501.6" cy="532.45" r="1.1" fill="#000"/>
<path d="M498.4,539.00 L506.2,534.50" stroke="#22a022" stroke-width="1.5" fill="none" stroke-linejoin="miter" stroke-linecap="butt" />
<circle cx="501.6" cy="541.05" r="1.1" fill="#000"/>
<path d="M498.4,547.60 L506.2,543.10" stroke="#22a022" stroke-width="1.5" fill="none" stroke-linejoin="miter" stroke-linecap="butt" />
<circle cx="501.6" cy="549.65" r="1.1" fill="#000"/>
<path d="M498.4,556.20 L506.2,551.70" stroke="#22a022" stroke-width="1.5" fill="none" stroke-linejoin="miter" stroke-linecap="butt" />
<circle cx="501.6" cy="558.25" r="1.1" fill="#000"/>
<path d="M498.4,564.80 L506.2,560.30" stroke="#22a022" stroke-width="1.5" fill="none" stroke-linejoin="miter" stroke-linecap="butt" />
<circle cx="501.6" cy="566.85" r="1.1" fill="#000"/>
<path d="M498.4,573.40 L506.2,568.90" stroke="#22a022" stroke-width="1.5" fill="none" stroke-linejoin="miter" stroke-linecap="butt" />
<use href="#cna" x="396.25" y="680.75"/>
<use href="#nail" x="414.4" y="680.8"/>
<use href="#cna" x="394.2" y="785.5"/>
<use href="#nail" x="413.3" y="785.8"/>
<use href="#csa" x="395.75" y="707.75"/>
<use href="#screw" x="414.4" y="707.7"/>
<use href="#csa" x="394.3" y="813.0"/>
<use href="#screw" x="413.3" y="813.1"/>
</svg>
</body></html>
